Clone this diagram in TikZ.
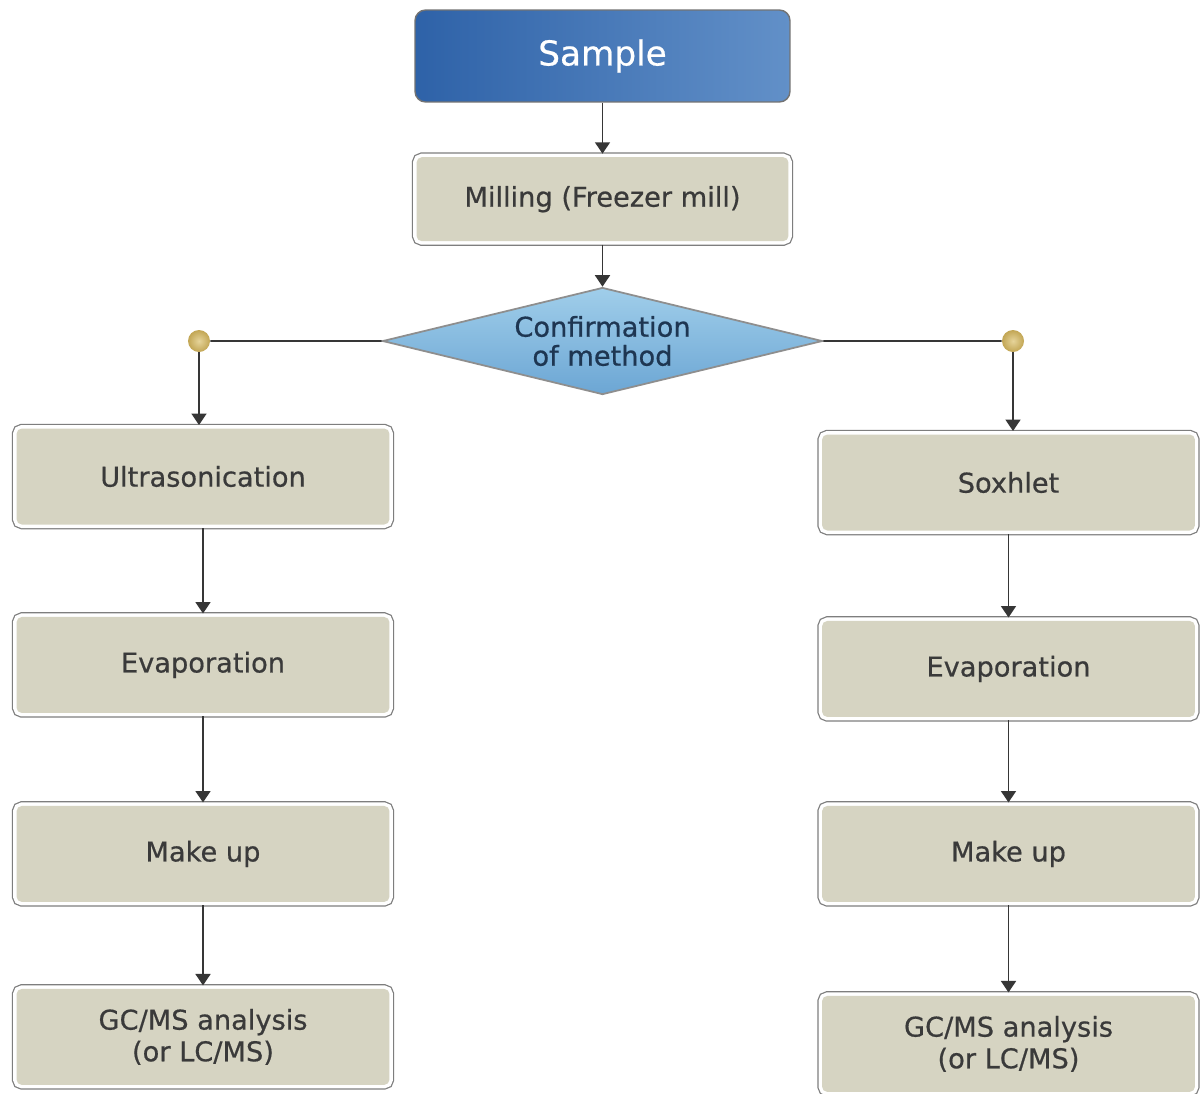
\documentclass[tikz,border=0pt]{standalone}
\usepackage{fontspec}
\setmainfont{DejaVu Sans}[FakeBold=0.6]
\usepackage{tikz}
\usetikzlibrary{positioning}
\usetikzlibrary{shapes, backgrounds}
\usetikzlibrary{arrows.meta}
\usetikzlibrary{calc}
\definecolor{boxfill}{HTML}{D6D4C2}
\definecolor{boxedge}{HTML}{7E7E7E}
\definecolor{boxtext}{HTML}{3A3A3A}
\definecolor{sampleleft}{HTML}{2E62A8}
\definecolor{sampleright}{HTML}{6290C8}
\definecolor{diatop}{HTML}{A0CEEA}
\definecolor{diabot}{HTML}{6CA6D4}
\definecolor{diaedge}{HTML}{8E8E8E}
\definecolor{diatext}{HTML}{1E3652}
\definecolor{dotin}{HTML}{E6D49A}
\definecolor{dotout}{HTML}{C2A654}
\definecolor{linecol}{HTML}{363636}
\tikzstyle{line} = [draw=linecol, line width=1pt, -{Triangle[width=8.5pt,length=6.5pt]}]
\tikzstyle{plainline} = [draw=linecol, line width=1pt]

\begin{document}
\begin{tikzpicture}[x=0.02cm, y=-0.02cm,
				internal/.style={rectangle, rounded corners=3pt, draw=white, line width=0.14cm, fill=boxfill,
					preaction={draw=boxedge, line width=0.19cm}, postaction={fill=boxfill},
					minimum width=7.46cm, minimum height=1.92cm, inner sep=2pt, text=boxtext,
					font=\fontsize{15.5}{18}\selectfont},
				dot/.style={circle, inner color=dotin, outer color=dotout, minimum size=0.44cm, inner sep=0pt},
				every text node part/.style={align=center}]

				\useasboundingbox[fill=white] (0,0) rectangle (1200,1093);

				\node (sample) at (602.5,56) [rectangle, rounded corners=6pt, draw=black!55, line width=0.8pt, left color=sampleleft, right color=sampleright, minimum width=7.5cm, minimum height=1.84cm, text=white, font=\fontsize{19.5}{22}\selectfont] {Sample};
				\node[below=1.02cm of sample] (milling) [internal, minimum width=7.44cm, minimum height=1.68cm] {Milling (Freezer mill)};
				\node[below=0.84cm of milling] (confirm) [diamond, aspect=4.04, draw=diaedge, line width=1pt, top color=diatop, bottom color=diabot, minimum width=8.8cm, minimum height=2.14cm, inner sep=0pt, text=diatext, font=\fontsize{15.5}{16.5}\selectfont] {Confirmation\\of method};

				\node (dotL) at (199,341) [dot] {};
				\node (dotR) at (1013,341) [dot] {};

				\node (ultra) at (203,476.5) [internal] {Ultrasonication};
				\node[below=1.71cm of ultra] (evapL) [internal] {Evaporation};
				\node[below=1.72cm of evapL] (makeL) [internal] {Make up};
				\node[below=1.6cm of makeL] (gcL) [internal] {GC/MS analysis\\(or LC/MS)};

				\node (soxhlet) at (1008.5,482.5) [internal] {Soxhlet};
				\node[below=1.67cm of soxhlet] (evapR) [internal] {Evaporation};
				\node[below=1.64cm of evapR] (makeR) [internal] {Make up};
				\node[below=1.74cm of makeR] (gcR) [internal] {GC/MS analysis\\(or LC/MS)};

				\draw [line] (sample) -- (milling);
				\draw [line] (milling) -- (confirm);
				\draw [plainline] (confirm.west) -- (dotL);
				\draw [plainline] (confirm.east) -- (dotR);
				\draw [line] (dotL) -- (dotL |- ultra.north);
				\draw [line] (dotR) -- (dotR |- soxhlet.north);
				\draw [line] (ultra) -- (evapL);
				\draw [line] (evapL) -- (makeL);
				\draw [line] (makeL) -- (gcL);
				\draw [line] (soxhlet) -- (evapR);
				\draw [line] (evapR) -- (makeR);
				\draw [line] (makeR) -- (gcR);

			\end{tikzpicture}
\end{document}
